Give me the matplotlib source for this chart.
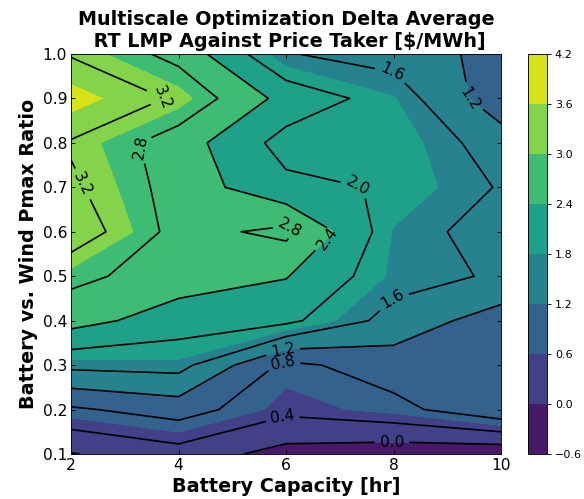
import numpy as np
import matplotlib
matplotlib.use("Agg")
import matplotlib.pyplot as plt

# Battery capacity (x) and battery/wind pmax ratio (y)
battery_hours = [2, 4, 6, 8, 10]
pmax_ratio = [0.1, 0.2, 0.3, 0.4, 0.5, 0.6, 0.7, 0.8, 0.9, 1.0]

# Delta average RT LMP [$/MWh], one list per battery capacity, bottom to top in ratio
delta_2hr = [-0.02, 0.74, 1.70, 2.56, 2.90, 3.46, 3.28, 3.15, 3.80, 3.15]
delta_4hr = [0.23, 0.98, 1.74, 2.19, 2.61, 2.66, 2.63, 2.60, 3.11, 2.68]
delta_6hr = [-0.15, 0.50, 0.70, 2.10, 2.42, 2.90, 2.10, 1.85, 2.26, 1.62]
delta_8hr = [-0.25, 0.68, 1.00, 1.45, 1.75, 1.78, 1.96, 1.95, 1.82, 1.45]
delta_10hr = [-0.30, 1.10, 1.05, 1.00, 1.55, 1.42, 1.57, 1.40, 0.94, 1.05]

fill_levels = [-0.6, 0.0, 0.6, 1.2, 1.8, 2.4, 3.0, 3.6, 4.2]
line_levels = [0.0, 0.4, 0.8, 1.2, 1.6, 2.0, 2.4, 2.8, 3.2]

# where the contour labels sit (battery hr, ratio)
label_spots = [(3.71, 0.904), (2.26, 0.71), (3.25, 0.79), (6.07, 0.61),
               (6.82, 0.58), (7.32, 0.70), (7.97, 0.96), (9.42, 0.90),
               (7.97, 0.45), (5.94, 0.334), (5.94, 0.31), (5.94, 0.18),
               (7.97, 0.127)]

X, Y = np.meshgrid(battery_hours, pmax_ratio)
Z = np.column_stack([delta_2hr, delta_4hr, delta_6hr, delta_8hr, delta_10hr])

fig = plt.figure(figsize=(7.3, 6.2375), dpi=80)
ax = fig.add_axes([0.1216, 0.0902, 0.7363, 0.8016])
cax = fig.add_axes([0.9041, 0.0902, 0.0325, 0.8016])

cf = ax.contourf(X, Y, Z, levels=fill_levels, cmap="viridis")
cs = ax.contour(X, Y, Z, levels=line_levels, colors="black", linewidths=1.5)
ax.clabel(cs, fontsize=14, fmt="%.1f", manual=label_spots)

fig.colorbar(cf, cax=cax, ticks=fill_levels)

ax.set_xticks(battery_hours)
ax.set_yticks(pmax_ratio)
ax.set_yticklabels([f"{v:.1f}" for v in pmax_ratio])
ax.tick_params(direction="in", top=True, right=True, labelsize=14)

ax.set_xlabel("Battery Capacity [hr]", fontsize="xx-large", fontweight="bold")
ax.set_ylabel("Battery vs. Wind Pmax Ratio", fontsize="xx-large", fontweight="bold")
ax.set_title("Multiscale Optimization Delta Average\n RT LMP Against Price Taker [$/MWh]",
             fontsize="xx-large", fontweight="bold")

fig.savefig("out.png", dpi=80)
